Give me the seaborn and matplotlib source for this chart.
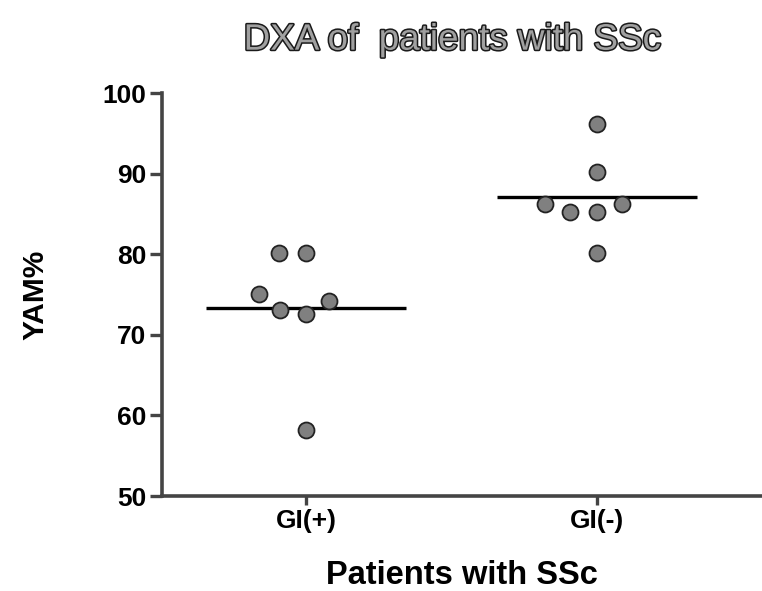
import numpy as np
import pandas as pd
import matplotlib
matplotlib.use('Agg')
import matplotlib.pyplot as plt
import matplotlib.patheffects as pe
from matplotlib.collections import PathCollection
import seaborn as sns

# data (YAM%)
groups = ['GI(+)', 'GI(-)']
gi_pos = [80.2, 80.2, 75.1, 73.1, 72.6, 74.2, 58.2]
gi_neg = [96.1, 90.2, 85.2, 85.2, 86.2, 86.2, 80.2]
y_ticks = [50, 60, 70, 80, 90, 100]

df = pd.DataFrame({
    'group': [groups[0]] * len(gi_pos) + [groups[1]] * len(gi_neg),
    'yam': gi_pos + gi_neg,
})

sns.set_theme(style='ticks')
plt.rcParams['font.family'] = ['Liberation Sans', 'DejaVu Sans']
plt.rcParams['text.color'] = 'black'
plt.rcParams['axes.labelcolor'] = 'black'
plt.rcParams['xtick.labelcolor'] = 'black'
plt.rcParams['ytick.labelcolor'] = 'black'

fig = plt.figure(figsize=(7.62, 5.91), dpi=100)
ax = fig.add_axes([0.2126, 0.1607, 0.7874, 0.6819])

# lay the swarm out with a bigger marker so the dots keep a small gap
sns.swarmplot(data=df, x='group', y='yam', order=groups, ax=ax,
              color='#808080', edgecolor='#222222', linewidth=1.3, size=17)

# mean lines
means = df.groupby('group')['yam'].mean()
for i, g in enumerate(groups):
    ax.hlines(means[g], i - 0.345, i + 0.345, color='black', lw=2.4, zorder=1)

ax.set_xlim(-0.495, 1.567)
ax.set_ylim(50, 100)
ax.set_yticks(y_ticks)
ax.set_yticklabels([str(t) for t in y_ticks], fontsize=19, fontweight='bold')
ax.set_xticks(range(len(groups)))
ax.set_xticklabels(groups, fontsize=19, fontweight='bold')

for s in ['top', 'right']:
    ax.spines[s].set_visible(False)
for s in ['left', 'bottom']:
    ax.spines[s].set_color('#444444')
    ax.spines[s].set_linewidth(2.6)
ax.tick_params(axis='y', length=8.5, width=2.4, color='#444444', pad=3)
ax.tick_params(axis='x', length=6.5, width=2.4, color='#444444', pad=3)

ax.set_xlabel('Patients with SSc', fontsize=23.5, fontweight='bold')
ax.set_ylabel('YAM%', fontsize=21.5, fontweight='bold')
ax.xaxis.set_label_coords(0.5, -0.158)
ax.yaxis.set_label_coords(-0.187, 0.5)

fig.text(0.593, 0.932, 'DXA of  patients with SSc', ha='center', va='center',
         fontsize=26.5, color='#a0a0a0',
         path_effects=[pe.withStroke(linewidth=2.2, foreground='#1a1a1a')])

# fix the swarm positions, then shrink the dots to their real size
fig.canvas.draw()
for c in ax.collections:
    if isinstance(c, PathCollection):
        if 'draw' in c.__dict__:
            del c.draw
        c.set_sizes([11.5 ** 2])

fig.savefig('out.png', dpi=100)
